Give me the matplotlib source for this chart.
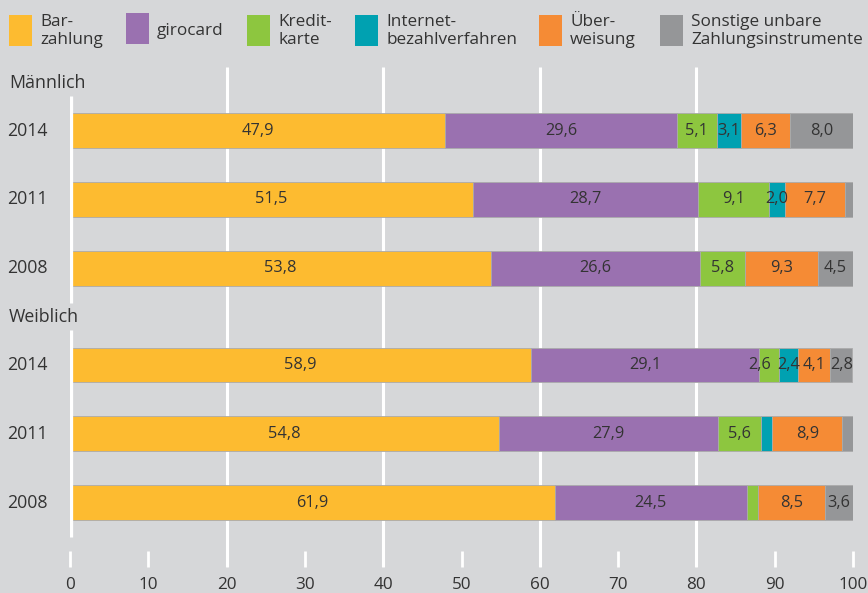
import matplotlib
matplotlib.use("Agg")
import matplotlib.pyplot as plt
import matplotlib.transforms as mtransforms
from matplotlib.patches import Rectangle

plt.rcParams['font.family'] = ['Open Sans', 'DejaVu Sans']

# Anteile der Zahlungsinstrumente am Umsatz (in %), nach Geschlecht und Jahr
groups = ["Männlich", "Weiblich"]
years = ["2014", "2011", "2008"]
instruments = ["Bar-\nzahlung", "girocard", "Kredit-\nkarte", "Internet-\nbezahlverfahren",
               "Über-\nweisung", "Sonstige unbare\nZahlungsinstrumente"]
colors = ["#FDBB30", "#9A71B0", "#8DC63F", "#00A1B1", "#F58B35", "#959698"]

barzahlung = [47.9, 51.5, 53.8, 58.9, 54.8, 61.9]
girocard = [29.6, 28.7, 26.6, 29.1, 27.9, 24.5]
kreditkarte = [5.1, 9.1, 5.8, 2.6, 5.6, 1.5]
internet = [3.1, 2.0, 0.0, 2.4, 1.4, 0.0]
ueberweisung = [6.3, 7.7, 9.3, 4.1, 8.9, 8.5]
sonstige = [8.0, 1.0, 4.5, 2.8, 1.4, 3.6]
series = [barzahlung, girocard, kreditkarte, internet, ueberweisung, sonstige]

xticks = [0, 10, 20, 30, 40, 50, 60, 70, 80, 90, 100]
gridlines = [20, 40, 60, 80]

BG = "#D6D7D9"
TXT = "#333333"
W, H = 868, 593

fig = plt.figure(figsize=(W / 100, H / 100), dpi=100, facecolor=BG)
ax_left, ax_right = 70 / W, 853 / W
ax_bottom = (H - 567) / H
ax = fig.add_axes([ax_left, ax_bottom, ax_right - ax_left, 1 - ax_bottom])
ax.set_facecolor(BG)
for s in ax.spines.values():
    s.set_visible(False)

# row layout: rows within a group are one unit apart, groups separated by a gap
group_step = 3.4
bar_h = 0.5
ax.set_xlim(0, 100)
ax.set_ylim(6.335, -1.894)

rows = []
for g in range(len(groups)):
    for r in range(len(years)):
        rows.append(g * group_step + r)

# white gridlines behind bars
ax.vlines(gridlines, -0.92, 6.335, colors="white", lw=2.2, zorder=0)

for i, y in enumerate(rows):
    left = 0.0
    prev = None
    for k, vals in enumerate(series):
        v = vals[i]
        if v > 0:
            ax.barh(y, v, left=left, height=bar_h, color=colors[k],
                    edgecolor="#ABABAB", linewidth=0.6, zorder=2)
            if v >= 2.0:
                # labels of very narrow segments lean into a wide left neighbour
                shift = -10 if (v < 3.0 and prev is not None and prev > 10) else 0
                ax.annotate(f"{v:.1f}".replace(".", ","), (left + v / 2, y),
                            xytext=(shift, 0), textcoords="offset pixels",
                            ha="center", va="center", fontsize=11.8, color=TXT,
                            zorder=3)
        prev = v
        left += v

# thick white baseline at 0 for each group
for g in range(len(groups)):
    y0 = g * group_step
    ax.vlines(0, y0 - 0.5, y0 + 2.5, colors="white", lw=3.8, zorder=4)

# x axis ticks drawn inward as short white marks
ax.set_xticks(xticks)
ax.set_xticklabels([str(t) for t in xticks])
ax.tick_params(axis="x", direction="in", length=11.5, width=2.0, color="white",
               labelsize=12.3, labelcolor=TXT, pad=7)
ax.tick_params(axis="y", left=False, labelleft=False)
for t in ax.xaxis.get_major_ticks():
    t.tick1line.set_zorder(5)

# group and year labels at the left margin
trans = mtransforms.blended_transform_factory(fig.transFigure, ax.transData)
for g, name in enumerate(groups):
    y0 = g * group_step
    ax.text(9 / W, y0 - 0.69, name, transform=trans, ha="left", va="center",
            fontsize=12.8, color=TXT)
    for r, yr in enumerate(years):
        ax.text(7 / W, y0 + r, yr, transform=trans, ha="left", va="center",
                fontsize=12.8, color=TXT)

# legend across the top
leg_x = [9, 126, 247, 355, 539, 660]
leg_y = [15, 13, 15, 15, 15, 15]
for k, name in enumerate(instruments):
    x = leg_x[k]
    y = leg_y[k]
    fig.patches.append(Rectangle((x / W, 1 - (y + 31) / H), 23 / W, 31 / H,
                                 transform=fig.transFigure, facecolor=colors[k],
                                 edgecolor="none"))
    fig.text((x + 31) / W, 1 - 31 / H, name, ha="left", va="center",
             fontsize=12.3, color=TXT, linespacing=1.15)

fig.savefig("out.png", dpi=100, facecolor=BG)
